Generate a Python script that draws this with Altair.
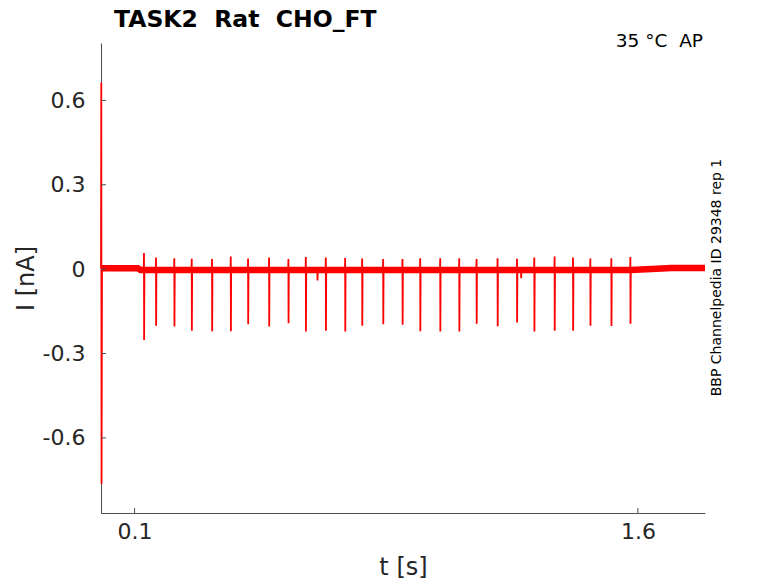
import altair as alt
import pandas as pd

# ---- data ----
spike_t = [0.1283, 0.1641, 0.2187, 0.2706, 0.3311, 0.3869, 0.4385, 0.5011, 0.5587,
           0.6106, 0.6702, 0.7278, 0.7785, 0.8411, 0.8987, 0.9515, 1.0111, 1.0678,
           1.1194, 1.1820, 1.2399, 1.2915, 1.3520, 1.4069, 1.4585, 1.5211, 1.5778]
spike_up = [0.057, 0.041, 0.039, 0.037, 0.036, 0.045, 0.038, 0.041, 0.036,
            0.043, 0.041, 0.040, 0.038, 0.036, 0.036, 0.039, 0.039, 0.039,
            0.036, 0.039, 0.037, 0.041, 0.045, 0.041, 0.038, 0.039, 0.043]
spike_down = [-0.252, -0.201, -0.204, -0.219, -0.221, -0.221, -0.196, -0.204, -0.192,
              -0.222, -0.219, -0.222, -0.201, -0.196, -0.198, -0.221, -0.222, -0.222,
              -0.194, -0.203, -0.190, -0.222, -0.219, -0.219, -0.201, -0.202, -0.194]
dip_t = [0.645, 1.252]
dip_i = [-0.040, -0.032]
transient_t = [0.0, 0.0008, 0.0016, 0.003]
transient_i = [0.003, 0.664, -0.763, 0.003]
base_t = [0.0, 0.11, 0.118, 1.58, 1.70, 1.80]
base_i = [0.003, 0.003, -0.003, -0.003, 0.004, 0.004]
y_ticks = [-0.6, -0.3, 0.0, 0.3, 0.6]
x_ticks = [0.1, 1.6]

NB = "\u00a0"
title_txt = f"TASK2{NB}{NB}Rat{NB}{NB}CHO_FT"
temp_txt = f"35{NB}°C{NB}{NB}AP"
side_txt = "BBP Channelpedia ID 29348 rep 1"

W, H = 604, 470
XD = [0.0, 1.8]
YD = [-0.867, 0.804]

def base_at(t):
    for k in range(len(base_t) - 1):
        if base_t[k] <= t <= base_t[k + 1]:
            f = (t - base_t[k]) / (base_t[k + 1] - base_t[k])
            return base_i[k] + f * (base_i[k + 1] - base_i[k])
    return base_i[-1]

# build the trace from the read values
rows = []
for t, i in zip(transient_t, transient_i):
    rows.append((t, i))
events = [(t, u, d) for t, u, d in zip(spike_t, spike_up, spike_down)]
events += [(t, base_at(t), d) for t, d in zip(dip_t, dip_i)]
events.sort()
for t, u, d in events:
    b = base_at(t)
    rows.append((t - 0.0008, b))
    rows.append((t - 0.0002, u))
    rows.append((t + 0.0002, d))
    rows.append((t + 0.0010, b))
rows.append((base_t[-1], base_i[-1]))
trace = pd.DataFrame(rows, columns=["t", "i"])
trace["k"] = range(len(trace))

base = pd.DataFrame({"t": base_t, "i": base_i})
yt = pd.DataFrame({"v": y_ticks})
xt = pd.DataFrame({"v": x_ticks})

xs = alt.Scale(domain=XD, nice=False, zero=False)
ys = alt.Scale(domain=YD, nice=False, zero=False)

lbl = "#262626"
axcol = "#4d4d4d"

band = alt.Chart(base).mark_line(color="#ff0000", strokeWidth=6.5, strokeCap="butt").encode(
    x=alt.X("t:Q", scale=xs, axis=alt.Axis(
        title="t [s]", values=x_ticks, format=".1f", grid=False, ticks=False,
        domainColor=axcol, labelColor=lbl, titleColor=lbl, labelFont="DejaVu Sans",
        titleFont="DejaVu Sans", labelFontSize=22, titleFontSize=24, titleFontWeight="normal",
        labelPadding=8, titlePadding=13)),
    y=alt.Y("i:Q", scale=ys, axis=alt.Axis(
        title="I [nA]", values=y_ticks, grid=False, ticks=False,
        labelExpr="datum.value == 0 ? '0' : (datum.value < 0 ? '-' : '') + format(abs(datum.value), '.1f')",
        domainColor=axcol, labelColor=lbl, titleColor=lbl, labelFont="DejaVu Sans",
        titleFont="DejaVu Sans", labelFontSize=22, titleFontSize=24, titleFontWeight="normal",
        labelPadding=16, titlePadding=4)),
)

line = alt.Chart(trace).mark_line(color="#ff0000", strokeWidth=1.8).encode(
    x=alt.X("t:Q", scale=xs),
    y=alt.Y("i:Q", scale=ys),
    order="k:Q",
)

ytick = alt.Chart(yt).mark_rule(color=axcol, strokeWidth=1).encode(
    y=alt.Y("v:Q", scale=ys), x=alt.value(0), x2=alt.value(5))
xtick = alt.Chart(xt).mark_rule(color=axcol, strokeWidth=1).encode(
    x=alt.X("v:Q", scale=xs), y=alt.value(H), y2=alt.value(H - 5))

title = alt.Chart(pd.DataFrame({"s": [title_txt]})).mark_text(
    font="DejaVu Sans", fontSize=23.5, fontWeight="bold",
    align="left", baseline="alphabetic", color="black").encode(
    text="s:N", x=alt.value(13), y=alt.value(-16.3))
temp = alt.Chart(pd.DataFrame({"s": [temp_txt]})).mark_text(
    font="DejaVu Sans", fontSize=18.5, align="right", baseline="alphabetic", color="black").encode(
    text="s:N", x=alt.value(602), y=alt.value(4.3))
side = alt.Chart(pd.DataFrame({"s": [side_txt]})).mark_text(
    font="DejaVu Sans", fontSize=14, align="center", baseline="middle", angle=270, color="black").encode(
    text="s:N", x=alt.value(616), y=alt.value(234.5))

chart = alt.layer(band, line, ytick, xtick, title, temp, side).properties(
    width=W, height=H,
    autosize=alt.AutoSizeParams(type="none"),
    padding={"left": 93, "top": 35, "right": 60, "bottom": 70},
).configure(background="white").configure_view(strokeWidth=0)

chart.save("out.html", embed_options={"renderer": "svg", "actions": False})
